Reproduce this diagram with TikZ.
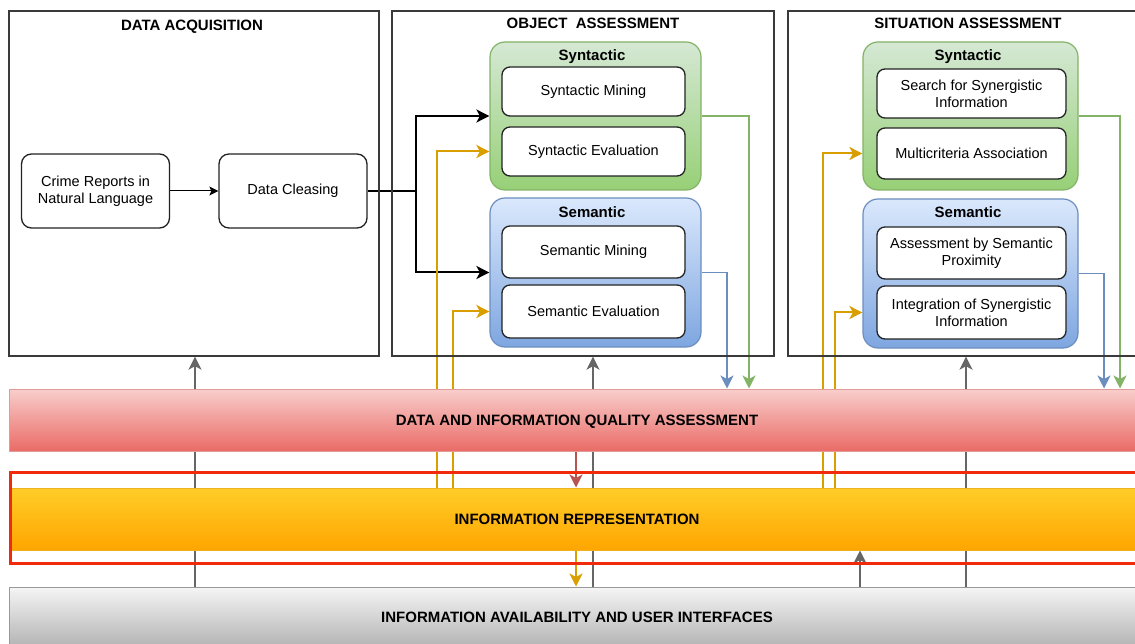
\documentclass[tikz,border=0pt]{standalone}
\usepackage{fontspec}
\setmainfont{Liberation Sans}
\usetikzlibrary{arrows.meta}
\definecolor{boxline}{HTML}{3A3A3A}
\definecolor{inline}{HTML}{222222}
\definecolor{grnB}{HTML}{82B366}
\definecolor{grnT}{HTML}{D5E8D4}
\definecolor{grnD}{HTML}{97D077}
\definecolor{bluB}{HTML}{6C8EBF}
\definecolor{bluT}{HTML}{DAE8FC}
\definecolor{bluD}{HTML}{7EA6E0}
\definecolor{orgL}{HTML}{D99E00}
\definecolor{gryL}{HTML}{666666}
\definecolor{redL}{HTML}{B85450}
\definecolor{redT}{HTML}{F8CECC}
\definecolor{redD}{HTML}{EA6B66}
\definecolor{redS}{HTML}{E09A98}
\definecolor{ylwT}{HTML}{FFCD28}
\definecolor{ylwD}{HTML}{FFA500}
\definecolor{ylwS}{HTML}{F0B020}
\definecolor{gryT}{HTML}{F5F5F5}
\definecolor{gryD}{HTML}{B3B3B3}
\definecolor{gryS}{HTML}{999999}
\definecolor{hlred}{HTML}{F22A0C}
\pgfdeclarelayer{bg}
\pgfdeclarelayer{lines}
\pgfsetlayers{bg,lines,main}
\begin{document}
\begin{tikzpicture}[x=1pt,y=-1pt,
  every node/.style={font=\fontsize{14.5}{17}\selectfont, inner sep=0pt, align=center},
  ttl/.style={font=\bfseries\fontsize{15}{17}\selectfont, text depth=0pt},
  colbox/.style={draw=boxline, line width=1.3pt, minimum height=345pt},
  inbox/.style={draw=inline, fill=white, rounded corners=8pt, line width=1.3pt},
  grpS/.style={draw=grnB, top color=grnT, bottom color=grnD, rounded corners=15pt, line width=1.2pt},
  grpM/.style={draw=bluB, top color=bluT, bottom color=bluD, rounded corners=15pt, line width=1.2pt},
  barbox/.style={line width=1pt, font=\bfseries\fontsize{15}{17}\selectfont, text depth=0pt},
  tip/.style={-{Stealth[length=13pt,width=13pt,inset=3.5pt]}},
  blk/.style={tip, draw=black, line width=2pt},
  thinarr/.style={-{Stealth[length=9pt,width=9pt,inset=2pt]}, draw=black, line width=1pt},
  org/.style={tip, draw=orgL, line width=2pt},
  grn/.style={tip, draw=grnB, line width=1.6pt},
  blu/.style={tip, draw=bluB, line width=1.6pt},
  gry/.style={tip, draw=gryL, line width=2pt},
  redarr/.style={tip, draw=redL, line width=2pt},
]
\useasboundingbox (0,0) rectangle (1135,644);
\begin{pgfonlayer}{bg}
\fill[white] (0,0) rectangle (1135,644);
\end{pgfonlayer}

% column boxes
\node[colbox, minimum width=370pt] (da) at (194,183.5) {};
\node[colbox, minimum width=382pt] (oa) at (583,183.5) {};
\node[colbox, minimum width=360pt] (sa) at (968,183.5) {};
\node[ttl] (tda) at (192,25.5) {DATA ACQUISITION};
\node[ttl] (toa) at (593,23.5) {OBJECT\ \ ASSESSMENT};
\node[ttl] (tsa) at (968,23.5) {SITUATION ASSESSMENT};

% data acquisition
\node[inbox, rounded corners=10pt, minimum width=148pt, minimum height=74pt] (cr) at (95.5,191) {Crime Reports in\\Natural Language};
\node[inbox, rounded corners=10pt, minimum width=148pt, minimum height=74pt] (dc) at (293,191) {Data Cleasing};

% object assessment
\node[grpS, minimum width=211pt, minimum height=148pt] (gsyn) at (595.5,116) {};
\node[ttl] (tgsyn) at (592,55) {Syntactic};
\node[inbox, minimum width=183pt, minimum height=49pt] (sm) at (593.5,91.5) {Syntactic Mining};
\node[inbox, minimum width=183pt, minimum height=49pt] (se) at (593.5,151.5) {Syntactic Evaluation};
\node[grpM, minimum width=211pt, minimum height=149pt] (gsem) at (595.5,272.5) {};
\node[ttl] (tgsem) at (592,212) {Semantic};
\node[inbox, minimum width=183pt, minimum height=52pt] (smm) at (593.5,252) {Semantic Mining};
\node[inbox, minimum width=183pt, minimum height=53pt] (sev) at (593.5,311.5) {Semantic Evaluation};

% situation assessment
\node[grpS, minimum width=215pt, minimum height=148pt] (gsyn2) at (970.5,116) {};
\node[ttl] (tgsyn2) at (968,55) {Syntactic};
\node[inbox, minimum width=189pt, minimum height=49pt] (ssi) at (971.5,93.5) {Search for Synergistic\\Information};
\node[inbox, minimum width=189pt, minimum height=51pt] (mca) at (971.5,153.5) {Multicriteria Association};
\node[grpM, minimum width=215pt, minimum height=149pt] (gsem2) at (970.5,273.5) {};
\node[ttl] (tgsem2) at (968,212) {Semantic};
\node[inbox, minimum width=189pt, minimum height=52pt] (asp) at (971.5,253) {Assessment by Semantic\\Proximity};
\node[inbox, minimum width=189pt, minimum height=53pt] (isi) at (971.5,312.5) {Integration of Synergistic\\Information};

% bars
\node[barbox, draw=redS, top color=redT, bottom color=redD, minimum width=1136pt, minimum height=62pt] (diqa) at (577,420) {DATA AND INFORMATION QUALITY ASSESSMENT};
\node[barbox, draw=ylwS, top color=ylwT, bottom color=ylwD, minimum width=1132pt, minimum height=62pt] (ir) at (577,519) {INFORMATION REPRESENTATION};
\node[barbox, draw=gryS, top color=gryT, bottom color=gryD, minimum width=1136pt, minimum height=60pt] (iau) at (577,617) {INFORMATION AVAILABILITY AND USER INTERFACES};
\node[draw=hlred, line width=3pt, minimum width=1135pt, minimum height=91pt] (hl) at (577.5,517.5) {};

% helper coordinates
\coordinate (br) at (416,191);
\coordinate (o1) at (437,0);
\coordinate (o2) at (453,0);
\coordinate (o3) at (823,0);
\coordinate (o4) at (835,0);
\coordinate (g1) at (749,0);
\coordinate (b1) at (727,0);
\coordinate (g2) at (1120,0);
\coordinate (b2) at (1104,0);
\coordinate (a1) at (195,0);
\coordinate (a2) at (593,0);
\coordinate (a3) at (966,0);
\coordinate (a4) at (860,0);
\coordinate (r1) at (576,0);

\begin{pgfonlayer}{lines}
\draw[thinarr] (cr) -- (dc);
\draw[blk] (dc.east) -- (br) |- (gsyn.west);
\draw[blk] (br) |- (gsem.west);
\draw[org] (ir.north -| o1) |- (gsyn.west |- se);
\draw[org] (ir.north -| o2) |- (gsem.west |- sev);
\draw[org] (ir.north -| o3) |- (gsyn2.west |- mca);
\draw[org] (ir.north -| o4) |- (gsem2.west |- isi);
\draw[grn] (gsyn.east) -| (diqa.north -| g1);
\draw[blu] (gsem.east) -| (diqa.north -| b1);
\draw[grn] (gsyn2.east) -| (diqa.north -| g2);
\draw[blu] (gsem2.east) -| (diqa.north -| b2);
\draw[gry] (iau.north -| a1) -- (da.south -| a1);
\draw[gry] (iau.north -| a2) -- (oa.south -| a2);
\draw[gry] (iau.north -| a3) -- (sa.south -| a3);
\draw[gry] (iau.north -| a4) -- (ir.south -| a4);
\draw[redarr] (diqa.south -| r1) -- (ir.north -| r1);
\draw[org] (ir.south -| r1) -- (iau.north -| r1);
\end{pgfonlayer}
\end{tikzpicture}
\end{document}
